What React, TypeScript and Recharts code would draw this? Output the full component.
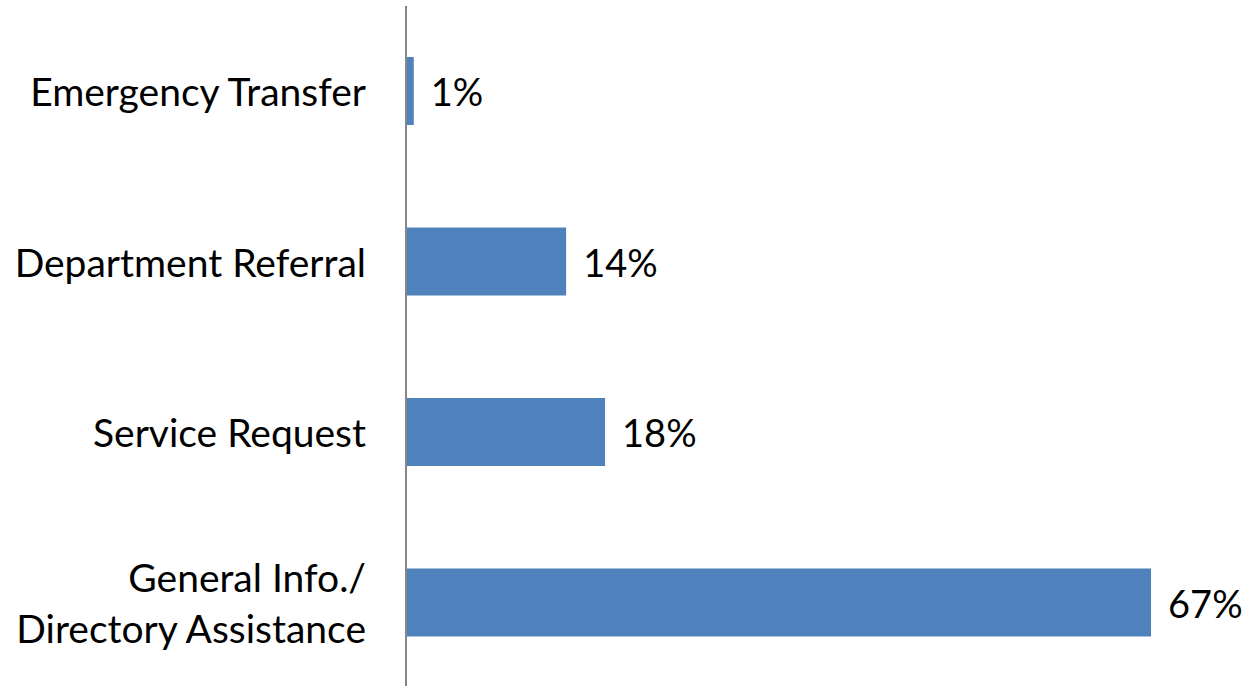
import { Bar, BarChart, LabelList, XAxis, YAxis } from "recharts";

const categories = [
  "Emergency Transfer",
  "Department Referral",
  "Service Request",
  "General Info./\nDirectory Assistance",
];
const shares = [0.7, 14.4, 17.9, 67.0];

const data = categories.map((name, i) => ({ name, value: shares[i] }));

const FONT = "Lato, 'Open Sans', sans-serif";

function CategoryTick(props: any) {
  const { x, y, payload } = props;
  const lines = String(payload.value).split("\n");
  const lh = 51;
  const start = -((lines.length - 1) * lh) / 2;
  const tx = x - 32;
  return (
    <text
      x={tx}
      y={y}
      textAnchor="end"
      fontFamily={FONT}
      fontSize={39}
      fill="#000"
      dominantBaseline="central"
    >
      {lines.map((l, i) => (
        <tspan key={i} x={tx} dy={i === 0 ? start : lh}>
          {l}
        </tspan>
      ))}
    </text>
  );
}

function ValueLabel(props: any) {
  const { x, y, width, height, value } = props;
  return (
    <text
      x={x + width + 17}
      y={y + height / 2}
      fontFamily={FONT}
      fontSize={38}
      fill="#000"
      dominantBaseline="central"
    >
      {Math.round(value)}%
    </text>
  );
}

export default function App() {
  return (
    <div
      style={{
        position: "fixed",
        left: 0,
        top: 0,
        width: 1248,
        height: 686,
        overflow: "hidden",
        background: "#fff",
      }}
    >
      <BarChart
        width={1248}
        height={700}
        data={data}
        layout="vertical"
        margin={{ top: 6, right: 8, bottom: 12, left: 0 }}
      >
        <XAxis type="number" domain={[0, 75]} hide />
        <YAxis
          type="category"
          dataKey="name"
          width={406}
          axisLine={{ stroke: "#868686", strokeWidth: 2 }}
          tickLine={false}
          tick={<CategoryTick />}
          interval={0}
        />
        <Bar dataKey="value" fill="#4F81BD" barSize={68} isAnimationActive={false}>
          <LabelList dataKey="value" content={<ValueLabel />} />
        </Bar>
      </BarChart>
    </div>
  );
}
